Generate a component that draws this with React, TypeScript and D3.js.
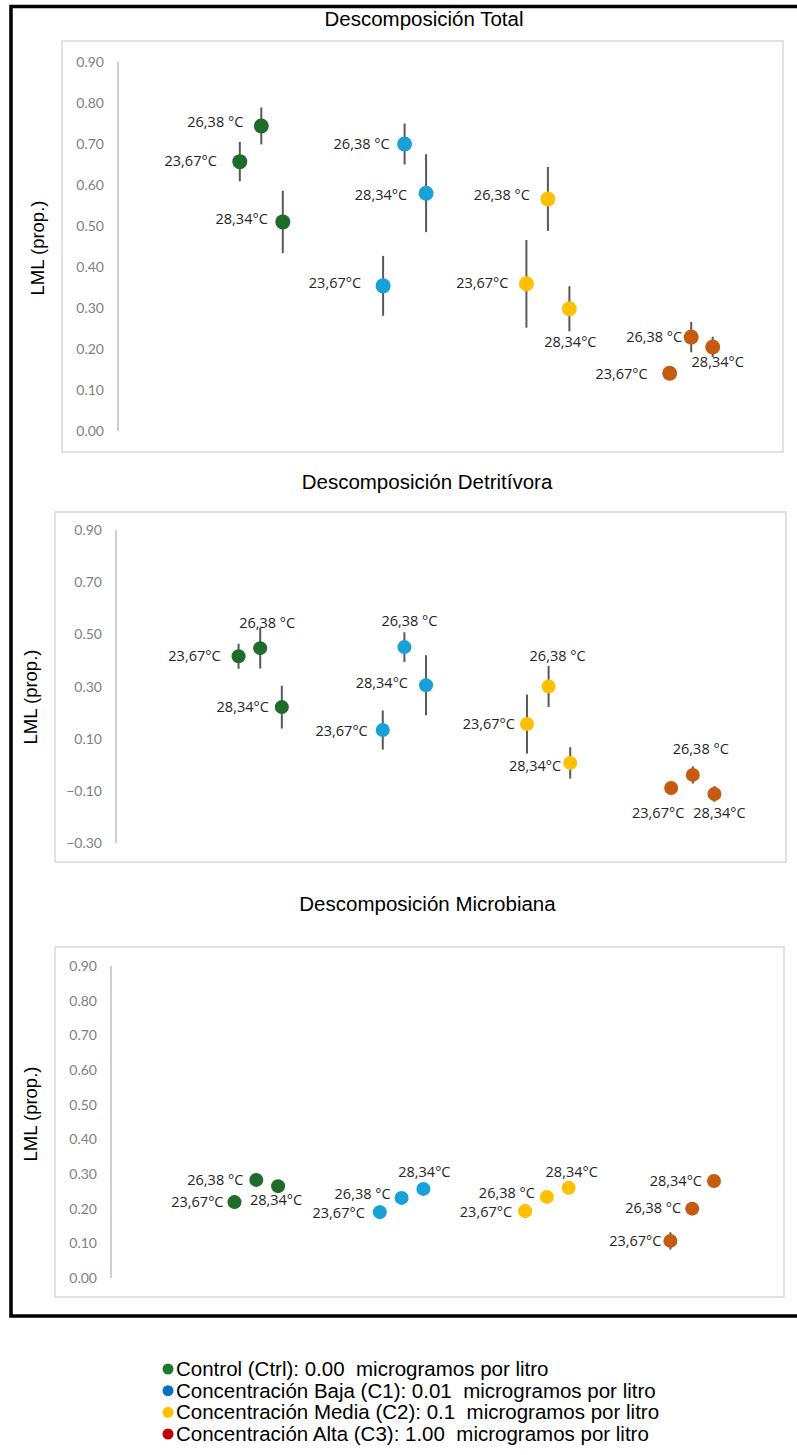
import React from 'react';
import * as d3 from 'd3';

// ---------- data ----------
const groups = ['Ctrl', 'C1', 'C2', 'C3'];
const temps = ['23,67°C', '26,38 °C', '28,34°C'];
const tempOffsets = [-0.15, 0, 0.15];
const groupColors = ['#1f6b2a', '#18a0d8', '#ffc000', '#c55a11'];

// order: group-major (Ctrl, C1, C2, C3), temps 23.67, 26.38, 28.34
const totalMean = [0.657, 0.744, 0.51, 0.354, 0.70, 0.58, 0.359, 0.566, 0.298, 0.141, 0.229, 0.205];
const totalErr = [0.048, 0.045, 0.076, 0.073, 0.05, 0.095, 0.107, 0.078, 0.055, 0.01, 0.037, 0.025];

const detritMean = [0.416, 0.447, 0.221, 0.133, 0.451, 0.305, 0.156, 0.300, 0.007, -0.089, -0.039, -0.112];
const detritErr = [0.048, 0.078, 0.082, 0.075, 0.057, 0.115, 0.113, 0.079, 0.06, 0.01, 0.033, 0.03];

const microMean = [0.219, 0.283, 0.265, 0.19, 0.231, 0.257, 0.193, 0.234, 0.26, 0.107, 0.20, 0.28];
const microErr = [0.02, 0.008, 0.008, 0.02, 0.01, 0.005, 0.02, 0.01, 0.008, 0.025, 0.008, 0.005];

const ticksTotal = [0, 0.1, 0.2, 0.3, 0.4, 0.5, 0.6, 0.7, 0.8, 0.9];
const ticksDetrit = [-0.3, -0.1, 0.1, 0.3, 0.5, 0.7, 0.9];
const ticksMicro = [0, 0.1, 0.2, 0.3, 0.4, 0.5, 0.6, 0.7, 0.8, 0.9];

const legendLabels = [
  'Control (Ctrl): 0.00  microgramos por litro',
  'Concentración Baja (C1): 0.01  microgramos por litro',
  'Concentración Media (C2): 0.1  microgramos por litro',
  'Concentración Alta (C3): 1.00  microgramos por litro',
];
const legendColors = ['#1e7b2e', '#0070c0', '#ffc000', '#c00000'];

// ---------- label layout (relative to each point) ----------
type L = [string, number, number];
const layoutTotal: L[] = [
  ['end', -23, -1], ['end', -18, -4], ['end', -15, -3],
  ['end', -22, -3], ['end', -15, 0], ['end', -19, 2],
  ['end', -18, -1], ['end', -18, -4], ['middle', 1, 33],
  ['end', -22, 1], ['end', -9, 0], ['middle', 5, 15],
];
const layoutDetrit: L[] = [
  ['end', -18, 0], ['middle', 7, -25], ['end', -13, 0],
  ['end', -15, 1], ['middle', 5, -26], ['end', -18, -2],
  ['end', -12, 0], ['middle', 9, -31], ['end', -9, 3],
  ['middle', -13, 25], ['middle', 8, -26], ['middle', 5, 19],
];
const layoutMicro: L[] = [
  ['end', -11, 0], ['end', -13, 0], ['middle', -2, 14],
  ['end', -15, 1], ['end', -11, -4], ['middle', 1, -17],
  ['end', -13, 1], ['end', -12, -4], ['middle', 3, -16],
  ['end', -9, 0], ['end', -11, -1], ['end', -12, 0],
];

interface PanelCfg {
  title: string;
  titleX: number;
  titleY: number;
  box: [number, number, number, number];
  axisX: number;
  unit: number;
  yTop: number;
  yBottom: number;
  domain: [number, number];
  ticks: number[];
  mean: number[];
  err: number[];
  layout: L[];
  r: number;
  yTitleX: number;
  yTitleY: number;
}

const panels: PanelCfg[] = [
  {
    title: 'Descomposición Total', titleX: 424, titleY: 25.5,
    box: [62, 41, 783, 452], axisX: 118, unit: 143.3, yTop: 62, yBottom: 431,
    domain: [0, 0.9], ticks: ticksTotal, mean: totalMean, err: totalErr, layout: layoutTotal, r: 7.5,
    yTitleX: 38, yTitleY: 248,
  },
  {
    title: 'Descomposición Detritívora', titleX: 427, titleY: 488.5,
    box: [55, 512, 786, 862], axisX: 116, unit: 144.2, yTop: 530, yBottom: 843,
    domain: [-0.3, 0.9], ticks: ticksDetrit, mean: detritMean, err: detritErr, layout: layoutDetrit, r: 7,
    yTitleX: 31, yTitleY: 697,
  },
  {
    title: 'Descomposición Microbiana', titleX: 427.5, titleY: 911,
    box: [55, 947, 784, 1297], axisX: 111, unit: 145.3, yTop: 966, yBottom: 1278,
    domain: [0, 0.9], ticks: ticksMicro, mean: microMean, err: microErr, layout: layoutMicro, r: 7,
    yTitleX: 31, yTitleY: 1114,
  },
];

const fmt = d3.format('.2f');

function Panel({ p }: { p: PanelCfg }) {
  const x = d3.scaleLinear().domain([0, 1]).range([p.axisX, p.axisX + p.unit]);
  const y = d3.scaleLinear().domain(p.domain).range([p.yBottom, p.yTop]);
  const [bx0, by0, bx1, by1] = p.box;
  const pts = p.mean.map((m, i) => {
    const g = Math.floor(i / 3);
    const t = i % 3;
    return { g, t, m, e: p.err[i], xv: g + 1 + tempOffsets[t], lay: p.layout[i] };
  });
  return (
    <g>
      <text x={p.titleX} y={p.titleY} textAnchor="middle" fontFamily="'Liberation Sans', Arial, sans-serif" fontSize={20.5} fill="#000">
        {p.title}
      </text>
      <rect x={bx0} y={by0} width={bx1 - bx0} height={by1 - by0} fill="#fff" stroke="#d9d9d9" strokeWidth={1.5} />
      <line x1={p.axisX} x2={p.axisX} y1={y(p.domain[1])} y2={y(p.domain[0])} stroke="#bfbfbf" strokeWidth={1.5} />
      {p.ticks.map((t) => (
        <text key={t} x={p.axisX - 14} y={y(t) + 5} textAnchor="end" fontFamily="Lato, 'Open Sans', sans-serif" fontSize={14} fill="#7f7f7f">
          {fmt(t)}
        </text>
      ))}
      <text
        transform={`translate(${p.yTitleX},${p.yTitleY}) rotate(-90)`}
        textAnchor="middle"
        dy="0.35em"
        fontFamily="'Liberation Sans', Arial, sans-serif"
        fontSize={18.5}
        fill="#000"
      >
        LML (prop.)
      </text>
      {pts.map((d, i) => (
        <line key={'e' + i} x1={x(d.xv)} x2={x(d.xv)} y1={y(d.m + d.e)} y2={y(d.m - d.e)} stroke="#595959" strokeWidth={2} />
      ))}
      {pts.map((d, i) => (
        <circle key={'c' + i} cx={x(d.xv)} cy={y(d.m)} r={p.r} fill={groupColors[d.g]} />
      ))}
      {pts.map((d, i) => (
        <text
          key={'l' + i}
          x={x(d.xv) + d.lay[1]}
          y={y(d.m) + d.lay[2] + 5}
          textAnchor={d.lay[0] as any}
          fontFamily="'Open Sans', sans-serif"
          fontSize={14.5}
          fill="#262626"
        >
          {temps[d.t]}
        </text>
      ))}
    </g>
  );
}

export default function App() {
  const legendY = d3.scaleLinear().domain([0, 3]).range([1369, 1434]);
  return (
    <svg width={797} height={1455} style={{ position: 'absolute', left: 0, top: 0, background: '#fff' }}>
      <rect x={0} y={0} width={797} height={1455} fill="#fff" />
      <rect x={11} y={6.5} width={900} height={1309.5} fill="none" stroke="#000" strokeWidth={3.5} />
      {panels.map((p) => (
        <Panel key={p.title} p={p} />
      ))}
      {legendLabels.map((l, i) => (
        <g key={l}>
          <circle cx={168} cy={legendY(i)} r={5.5} fill={legendColors[i]} />
          <text x={176} y={legendY(i) + 7} fontFamily="'Liberation Sans', Arial, sans-serif" fontSize={20.5} fill="#000" style={{ whiteSpace: 'pre' }}>
            {l}
          </text>
        </g>
      ))}
    </svg>
  );
}
